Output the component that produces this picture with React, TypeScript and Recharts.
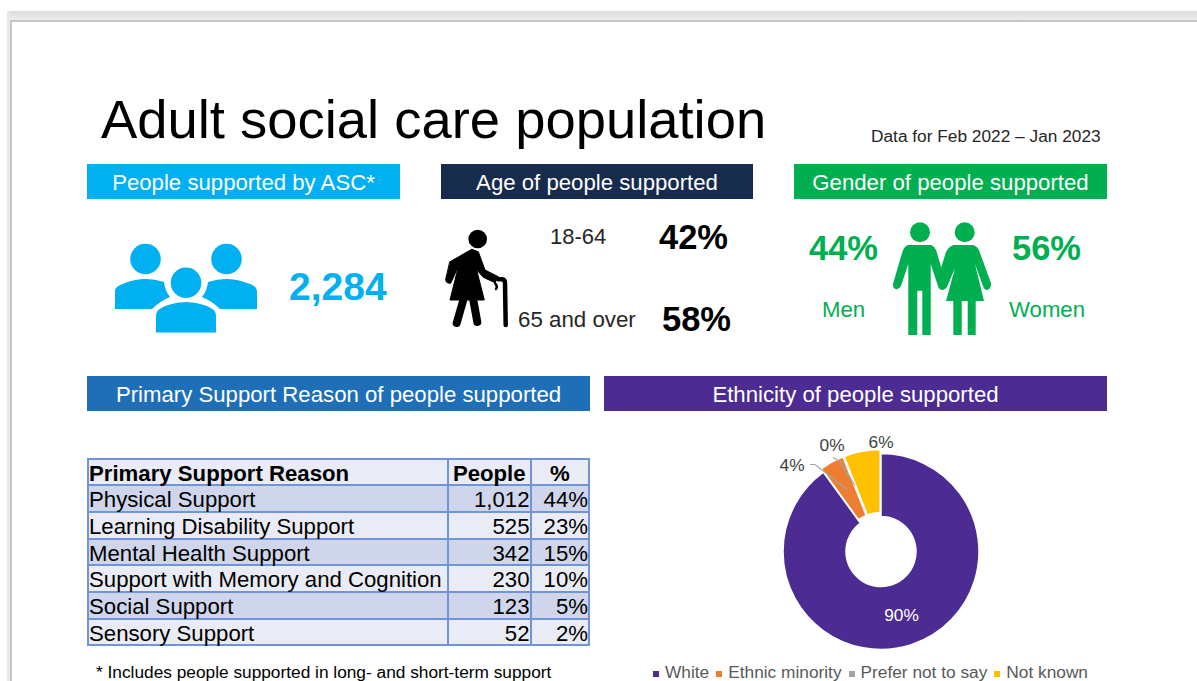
import { Cell, Legend, Pie, PieChart, Sector } from 'recharts';

const ETHNICITY = ['White', 'Ethnic minority', 'Prefer not to say', 'Not known'];
const ETHNICITY_SHARE = [90, 4, 0, 6];
const ETHNICITY_COLORS = ['#4C2C92', '#ED7D31', '#A5A5A5', '#FFC000'];

const REASONS = [
  'Physical Support',
  'Learning Disability Support',
  'Mental Health Support',
  'Support with Memory and Cognition',
  'Social Support',
  'Sensory Support',
];
const REASON_PEOPLE = ['1,012', '525', '342', '230', '123', '52'];
const REASON_SHARE = ['44%', '23%', '15%', '10%', '5%', '2%'];

const FONT = '"Liberation Sans", Arial, sans-serif';
const RAD = Math.PI / 180;

const pieData = ETHNICITY.map((name, i) => ({ name, value: ETHNICITY_SHARE[i] }));

// how far each slice is pulled out of the ring
const SLICE_PULL = [0, 4, 4, 4];

// label anchors relative to the pie centre, with an elbow where a leader line is drawn
const LABEL_SPOTS: Record<number, { x: number; y: number; elbow?: [number, number][] }> = {
  1: { x: -89, y: -87, elbow: [[-71, -87], [-66, -87]] },
  2: { x: -49, y: -107, elbow: [[-48, -94], [-41, -90]] },
  3: { x: 0, y: -110 },
};

function PulledSlice(props: any) {
  const { cx, cy, midAngle, index, fill, innerRadius, outerRadius, startAngle, endAngle } = props;
  const pull = SLICE_PULL[index] ?? 0;
  return (
    <Sector
      cx={cx + pull * Math.cos(midAngle * RAD)}
      cy={cy - pull * Math.sin(midAngle * RAD)}
      innerRadius={innerRadius}
      outerRadius={outerRadius}
      startAngle={startAngle}
      endAngle={endAngle}
      fill={fill}
      stroke="#fff"
      strokeWidth={1.5}
    />
  );
}

function SliceLabel(props: any) {
  const { cx, cy, midAngle, index, value, innerRadius, outerRadius } = props;
  const spot = LABEL_SPOTS[index];
  const textStyle = { fontFamily: FONT, fontSize: 17.3 };
  if (!spot) {
    const r = (innerRadius + outerRadius) / 2;
    return (
      <text
        x={cx + r * Math.cos(midAngle * RAD)}
        y={cy - r * Math.sin(midAngle * RAD)}
        fill="#fff"
        textAnchor="middle"
        dominantBaseline="central"
        style={textStyle}
      >
        {value}%
      </text>
    );
  }
  const tipX = cx + 71 * Math.cos(midAngle * RAD);
  const tipY = cy - 71 * Math.sin(midAngle * RAD);
  const leader = spot.elbow
    ? [...spot.elbow.map(([x, y]) => `${cx + x},${cy + y}`), `${tipX},${tipY}`].join(' ')
    : null;
  return (
    <g>
      {leader && <polyline points={leader} fill="none" stroke="#A6A6A6" strokeWidth={1.2} />}
      <text
        x={cx + spot.x}
        y={cy + spot.y}
        fill="#404040"
        textAnchor="middle"
        dominantBaseline="central"
        style={textStyle}
      >
        {value}%
      </text>
    </g>
  );
}

function Banner({ x, y, w, color, text }: { x: number; y: number; w: number; color: string; text: string }) {
  return (
    <div
      style={{
        position: 'absolute',
        left: x,
        top: y,
        width: w,
        height: 35,
        lineHeight: '38px',
        background: color,
        color: '#fff',
        fontSize: 22.2,
        textAlign: 'center',
      }}
    >
      {text}
    </div>
  );
}

function Txt({ x, y, size, color = '#262626', bold, anchor, children }: any) {
  return (
    <text x={x} y={y} fontSize={size} fill={color} fontWeight={bold ? 700 : 400} textAnchor={anchor}>
      {children}
    </text>
  );
}

function Icons() {
  const blue = '#00B0F0';
  const green = '#00B050';
  return (
    <svg width={1197} height={681} style={{ position: 'absolute', left: 0, top: 0, fontFamily: FONT }}>
      {/* group of people */}
      <g fill={blue}>
        <circle cx={145.5} cy={259} r={15.3} />
        <circle cx={226.5} cy={259} r={15.3} />
        <circle cx={186} cy={282.7} r={15.3} />
        <path d="M115 309V291Q115 286 125 283Q135 279 146 279Q155 279 164 282Q165 291 170 297Q160 301 152 309Z" />
        <path d="M257 309V291Q257 286 247 283Q237 279 226 279Q217 279 208 282Q207 291 202 297Q212 301 220 309Z" />
        <path d="M156 332.5V315Q156 309 168 305Q177 302 186 302Q195 302 204 305Q216 309 216 315V332.5Z" />
      </g>
      {/* older person with a stick */}
      <g fill="#000" stroke="#000" strokeLinecap="round" strokeLinejoin="round">
        <circle cx={477.7} cy={239} r={9.3} stroke="none" />
        <path
          strokeWidth={1}
          d="M450 261.7L471.7 249.3L478.3 251.7L485 270L498.3 276.7L495 282.7L483.3 277.3L476.7 270L484.3 300H450L458.3 266.7L450.7 283.3Q445.5 283.5 445.7 279.5Z"
        />
        <path d="M498.3 279.3H502Q505 279.5 505 283L505.7 325" fill="none" strokeWidth={4.5} />
        <path d="M495 283Q498 287 496 289" fill="none" strokeWidth={2.5} />
        <line x1={463.3} y1={300} x2={456.7} y2={323} strokeWidth={8} />
        <line x1={473.3} y1={300} x2={477.3} y2={322} strokeWidth={8} />
      </g>
      {/* couple holding hands */}
      <g fill={green} stroke="none">
        <circle cx={920} cy={232.3} r={10} />
        <circle cx={964.7} cy={232.3} r={10} />
        <path d="M908 245H931Q935 246 937 253L945.7 283Q946 289 942.5 290Q939 290 938 286L930.7 264V335H922.3V290.7H917.3V335H908.3V264L901 286Q899 290 895.5 289Q892 287.5 893.3 283L902 253Q904 246 908 245Z" />
        <path d="M954 245H973Q978 246 980 253L991 283Q991.5 288 987.5 290Q984 290 983 286L975 264L984 301H975.7V335H967.7V301H961.7V335H953.3V301H946L955 268L947 287Q945 290 942.5 290L941 268L946 252Q949 246 954 245Z" />
      </g>

      <Txt x={101} y={138} size={54.4} color="#000">Adult social care population</Txt>
      <Txt x={871} y={142} size={17.3}>Data for Feb 2022 – Jan 2023</Txt>

      <Txt x={289} y={300} size={39} color={blue} bold>2,284</Txt>

      <Txt x={550} y={244} size={22}>18-64</Txt>
      <Txt x={659} y={249} size={34.5} color="#000" bold>42%</Txt>
      <Txt x={518} y={327} size={22.3}>65 and over</Txt>
      <Txt x={662} y={331} size={34.5} color="#000" bold>58%</Txt>

      <Txt x={809} y={260} size={34.5} color={green} bold>44%</Txt>
      <Txt x={1012} y={260} size={34.5} color={green} bold>56%</Txt>
      <Txt x={822} y={317} size={22.2} color={green}>Men</Txt>
      <Txt x={1009} y={317} size={22.2} color={green}>Women</Txt>

      <Txt x={96} y={678} size={17.3} color="#000">* Includes people supported in long- and short-term support</Txt>
    </svg>
  );
}

function ReasonTable() {
  const cell = {
    border: '2px solid #7194D9',
    padding: '3px 0 0',
    height: 21.7,
    lineHeight: '21.7px',
    whiteSpace: 'nowrap' as const,
  };
  return (
    <table
      style={{
        position: 'absolute',
        left: 87,
        top: 457.5,
        width: 501,
        borderCollapse: 'collapse',
        tableLayout: 'fixed',
        fontSize: 22.2,
        color: '#000',
      }}
    >
      <colgroup>
        <col style={{ width: 360 }} />
        <col style={{ width: 82.5 }} />
        <col style={{ width: 58.5 }} />
      </colgroup>
      <thead>
        <tr style={{ background: '#E9EBF5', fontWeight: 700 }}>
          <td style={cell}>Primary Support Reason</td>
          <td style={{ ...cell, textAlign: 'center' }}>People</td>
          <td style={{ ...cell, textAlign: 'center' }}>%</td>
        </tr>
      </thead>
      <tbody>
        {REASONS.map((reason, i) => (
          <tr key={reason} style={{ background: i % 2 === 0 ? '#CFD5EA' : '#E9EBF5' }}>
            <td style={cell}>{reason}</td>
            <td style={{ ...cell, textAlign: 'right' }}>{REASON_PEOPLE[i]}</td>
            <td style={{ ...cell, textAlign: 'right' }}>{REASON_SHARE[i]}</td>
          </tr>
        ))}
      </tbody>
    </table>
  );
}

export default function App() {
  return (
    <div
      style={{
        position: 'absolute',
        left: 0,
        top: 0,
        width: 1197,
        height: 681,
        overflow: 'hidden',
        background: '#fff',
        fontFamily: FONT,
      }}
    >
      {/* window frame */}
      <div
        style={{
          position: 'absolute',
          left: 7,
          top: 11,
          width: 1190,
          height: 9,
          background: 'linear-gradient(#DCDCDC, #ECECEC)',
        }}
      />
      <div style={{ position: 'absolute', left: 7, top: 11, width: 3, height: 670, background: '#E8E8E8' }} />
      <div style={{ position: 'absolute', left: 10, top: 20, width: 1187, height: 1.5, background: '#C6C6C6' }} />
      <div style={{ position: 'absolute', left: 10, top: 20, width: 1.5, height: 661, background: '#C6C6C6' }} />

      <Banner x={87} y={164} w={313} color="#00B0F0" text="People supported by ASC*" />
      <Banner x={441} y={164} w={312} color="#172B4D" text="Age of people supported" />
      <Banner x={794} y={164} w={313} color="#00B050" text="Gender of people supported" />
      <Banner x={87} y={376} w={503} color="#1F6FB8" text="Primary Support Reason of people supported" />
      <Banner x={604} y={376} w={503} color="#4C2C92" text="Ethnicity of people supported" />

      <Icons />
      <ReasonTable />

      <div style={{ position: 'absolute', left: 640, top: 420 }}>
        <PieChart width={480} height={261}>
          <Pie
            data={pieData}
            dataKey="value"
            nameKey="name"
            cx={236}
            cy={126.5}
            innerRadius={35}
            outerRadius={98}
            startAngle={90}
            endAngle={-270}
            isAnimationActive={false}
            shape={PulledSlice}
            label={SliceLabel}
            labelLine={false}
          >
            {pieData.map((entry, i) => (
              <Cell key={entry.name} fill={ETHNICITY_COLORS[i]} />
            ))}
          </Pie>
          <Legend
            iconType="square"
            iconSize={6}
            verticalAlign="bottom"
            align="center"
            itemSorter={null}
            wrapperStyle={{ bottom: -2, left: -1, whiteSpace: 'nowrap' }}
            formatter={(value: string) => (
              <span style={{ color: '#595959', fontSize: 17.3, marginLeft: 2, marginRight: -3, whiteSpace: 'nowrap' }}>
                {value}
              </span>
            )}
          />
        </PieChart>
      </div>
    </div>
  );
}
